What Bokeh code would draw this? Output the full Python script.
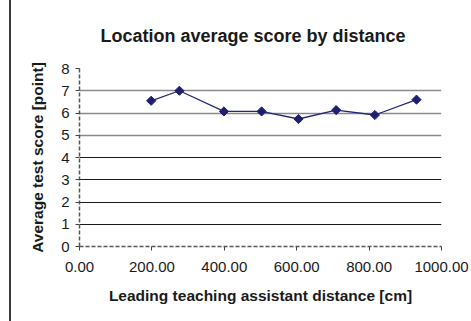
import math
from bokeh.plotting import figure
from bokeh.models import (FixedTicker, NumeralTickFormatter, Range1d, Grid)
from bokeh.embed import file_html
from bokeh.resources import INLINE

# data
distance = [198, 276, 399, 503, 605, 709, 816, 931]
score = [6.55, 7.0, 6.07, 6.07, 5.73, 6.13, 5.91, 6.6]
x_ticks = [0, 200, 400, 600, 800, 1000]
y_ticks = [0, 1, 2, 3, 4, 5, 6, 7, 8]
grid_dark = [1, 2, 3, 4]
grid_gray = [5, 6, 7]

FONT = "Liberation Sans"
TXT = "#1a1a1a"

p = figure(frame_width=362, frame_height=178,
           min_border_left=68, min_border_right=30,
           min_border_top=68, min_border_bottom=75,
           x_range=Range1d(0, 1000), y_range=Range1d(0, 8),
           output_backend="svg", toolbar_location=None,
           title="Location average score by distance")

# outer chart frame edge on the left
p.styles = {"margin-left": "9px", "border-left": "2px solid #3a3a3a"}

p.outline_line_color = None
p.background_fill_color = "white"
p.border_fill_color = "white"

# title
p.title.text_font = FONT
p.title.text_font_size = "18px"
p.title.text_font_style = "bold"
p.title.text_color = TXT
p.title.align = "left"
p.title.offset = 21
p.title.standoff = 46

# axes
for ax in (p.xaxis[0], p.yaxis[0]):
    ax.axis_line_color = "#555555"
    ax.axis_line_width = 1.5
    ax.axis_line_dash = "4 2"
    ax.major_tick_line_color = "#444444"
    ax.major_tick_out = 4
    ax.major_tick_in = 0
    ax.minor_tick_line_color = None
    ax.major_label_text_font = FONT
    ax.major_label_text_font_size = "15px"
    ax.major_label_text_color = TXT
    ax.axis_label_text_font = FONT
    ax.axis_label_text_font_size = "15.5px"
    ax.axis_label_text_font_style = "bold"
    ax.axis_label_text_color = TXT

p.xaxis.ticker = FixedTicker(ticks=x_ticks)
p.xaxis.formatter = NumeralTickFormatter(format="0.00")
p.xaxis.axis_label = "Leading teaching assistant distance [cm]"
p.xaxis.major_label_standoff = 11
p.xaxis.axis_label_standoff = 12

p.yaxis.ticker = FixedTicker(ticks=y_ticks)
p.yaxis.axis_label = "Average test score [point]"
p.yaxis.major_label_standoff = 6
p.yaxis.axis_label_standoff = 12

# grids
p.xgrid.ticker = FixedTicker(ticks=[1000])
p.xgrid.grid_line_color = "#777777"
p.xgrid.grid_line_width = 2
p.xgrid.grid_line_dash = "2 4"

p.ygrid.ticker = FixedTicker(ticks=grid_gray)
p.ygrid.grid_line_color = "#8a8a8a"
p.ygrid.grid_line_width = 1.3

p.add_layout(Grid(dimension=1, ticker=FixedTicker(ticks=grid_dark),
                  grid_line_color="#1a1a1a", grid_line_width=1.2))
p.add_layout(Grid(dimension=1, ticker=FixedTicker(ticks=[8]),
                  grid_line_color="#555555", grid_line_width=1.5,
                  grid_line_dash="4 2"))

# series
p.line(distance, score, line_color="#26267a", line_width=1.3)
p.scatter(distance, score, marker="square", size=6.5, angle=math.pi / 4,
          fill_color="#1f1f70", line_color="#1f1f70")

open("out.html", "w").write(file_html(p, INLINE))
